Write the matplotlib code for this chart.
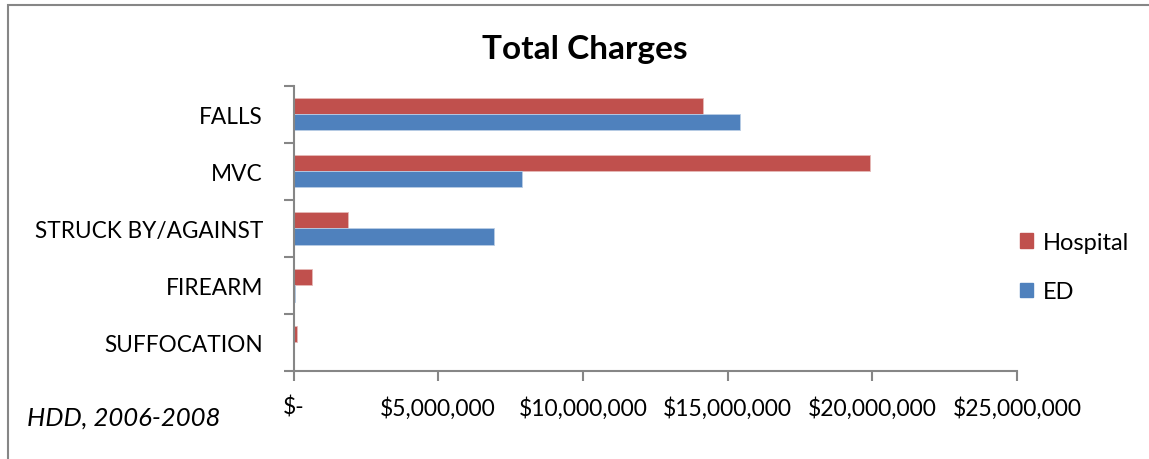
import matplotlib.pyplot as plt
from matplotlib.patches import Patch, Rectangle
from matplotlib.ticker import FuncFormatter
import numpy as np

plt.rcParams['font.family'] = ['Lato', 'DejaVu Sans']

categories = ['FALLS', 'MVC', 'STRUCK BY/AGAINST', 'FIREARM', 'SUFFOCATION']
hospital = [14160000, 19930000, 1890000, 630000, 110000]
ed = [15440000, 7900000, 6930000, 60000, 10000]
xticks = [0, 5000000, 10000000, 15000000, 20000000, 25000000]

RED = '#C0504D'
BLUE = '#4F81BD'
GRAY = '#868686'


def money(v, pos):
    if v == 0:
        return '$-'
    return '${:,.0f}'.format(v)


fig = plt.figure(figsize=(11.49, 4.6), dpi=100)
ax = fig.add_axes([293.5 / 1149, 1 - 372 / 460, (1017 - 293.5) / 1149, (372 - 86.5) / 460])

y = np.arange(len(categories))
h = 0.286
ax.barh(y - h / 2, hospital, height=h, color=RED, edgecolor='#E6B9B8', linewidth=0.6)
ax.barh(y + h / 2, ed, height=h, color=BLUE, edgecolor='#B9CDE5', linewidth=0.6)

ax.set_xlim(0, 25000000)
ax.set_ylim(len(categories) - 0.5, -0.5)

for s in ['top', 'right']:
    ax.spines[s].set_visible(False)
for s in ['left', 'bottom']:
    ax.spines[s].set_color(GRAY)
    ax.spines[s].set_linewidth(1.5)

ax.set_yticks(y)
ax.set_yticklabels(categories, fontsize=16.3)
ax.set_yticks(np.arange(-0.5, len(categories)), minor=True)
ax.tick_params(axis='y', which='major', length=0, pad=22)
ax.tick_params(axis='y', which='minor', length=7, width=1.5, color=GRAY, direction='out')

ax.set_xticks(xticks)
ax.xaxis.set_major_formatter(FuncFormatter(money))
ax.tick_params(axis='x', length=7, width=1.5, color=GRAY, direction='out', labelsize=16.5, pad=11)

fig.text(585 / 1149, 1 - 50 / 460, 'Total Charges', fontsize=24, fontweight='bold',
         ha='center', va='center')
fig.text(27 / 1149, 1 - 418 / 460, 'HDD, 2006-2008', fontsize=18.5, style='italic',
         ha='left', va='center')

handles = [Patch(color=RED, label='Hospital'), Patch(color=BLUE, label='ED')]
fig.legend(handles=handles, loc='center left', bbox_to_anchor=(999 / 1149, 1 - 268 / 460),
           frameon=False, fontsize=17, handlelength=0.55, handleheight=0.55,
           handletextpad=0.4, labelspacing=1.2)

fig.add_artist(Rectangle((8 / 1149, -0.1), 1.2, 1 - 6 / 460 + 0.1, transform=fig.transFigure,
                         fill=False, edgecolor=GRAY, linewidth=1.5))

fig.savefig('out.png', dpi=100)
